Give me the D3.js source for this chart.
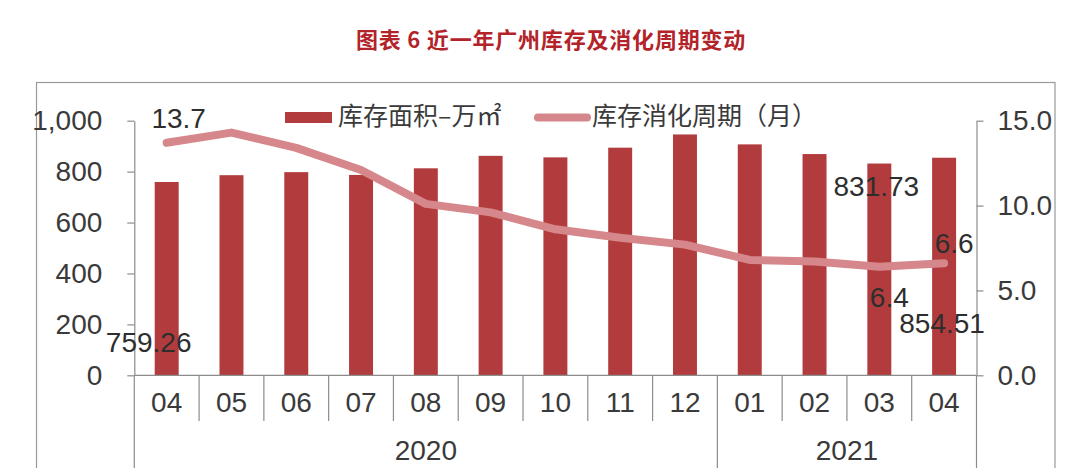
<!DOCTYPE html>
<html><head><meta charset="utf-8">
<script src="https://cdn.jsdelivr.net/npm/d3@7"></script>
<style>
html,body{margin:0;padding:0;background:#fff;}
svg{display:block;}
</style>
</head><body>
<svg id="c" width="1080" height="468"></svg>
<script>
// ---- data ----
const months = ["04","05","06","07","08","09","10","11","12","01","02","03","04"];
const years = ["2020","2020","2020","2020","2020","2020","2020","2020","2020","2021","2021","2021","2021"];
const yearGroups = ["2020","2021"];
const inventory = [759.26, 786, 798, 787, 813, 862, 856, 894, 946, 907, 869, 831.73, 854.51];
const cycle = [13.7, 14.3, 13.4, 12.1, 10.1, 9.6, 8.6, 8.1, 7.7, 6.8, 6.7, 6.4, 6.6];
const leftTicks = [0, 200, 400, 600, 800, 1000];
const rightTicks = [0, 5, 10, 15];
const titleText = "图表 6 近一年广州库存及消化周期变动";
const legendBar = "库存面积–万㎡";
const legendLine = "库存消化周期（月）";

// ---- setup ----
const svg = d3.select("#c");
const NUM = "'Liberation Sans', Arial, sans-serif";
const CJK = "'Noto Sans CJK SC', 'Noto Sans', sans-serif";
const TXT = "#3a3a3a";
const AX = "#8c8c8c";
const BAR = "#b23c3d";
const LINE = "#d6878b";

const keys = months.map((m, i) => years[i] + "-" + m);
const x = d3.scaleBand().domain(keys).range([134.3, 976.5]).padding(0);
const yL = d3.scaleLinear().domain([0, 1000]).range([375.3, 120.7]);
const yR = d3.scaleLinear().domain([0, 15]).range([375.3, 120.7]);
const bw = x.bandwidth() * 0.37;
const cx = i => x(keys[i]) + x.bandwidth() / 2;

// outer frame
svg.append("rect").attr("x", 36.5).attr("y", 82.5).attr("width", 1018.5).attr("height", 420)
  .attr("fill", "none").attr("stroke", "#9a9a9a").attr("stroke-width", 1.2);

// title
svg.append("text").attr("x", 551).attr("y", 48).attr("text-anchor", "middle")
  .attr("font-family", CJK).attr("font-weight", "bold").attr("font-size", 22)
  .attr("letter-spacing", 0.8)
  .attr("fill", "#b3232a").attr("xml:space", "preserve").text(titleText);

// bars
svg.append("g").selectAll("rect").data(inventory).join("rect")
  .attr("x", (d, i) => cx(i) - bw / 2)
  .attr("width", bw)
  .attr("y", d => yL(d))
  .attr("height", d => yL(0) - yL(d))
  .attr("fill", BAR);

// left axis
const gL = svg.append("g").attr("transform", "translate(134.3,0)")
  .call(d3.axisLeft(yL).tickValues(leftTicks).tickFormat(d3.format(",")).tickSize(7).tickSizeOuter(0).tickPadding(25));
gL.select(".domain").attr("stroke", AX).attr("stroke-width", 1.2);
gL.selectAll(".tick line").attr("stroke", AX).attr("stroke-width", 1.2);
gL.selectAll(".tick text").attr("font-family", NUM).attr("font-size", 28).attr("fill", TXT);

// right axis
const gR = svg.append("g").attr("transform", "translate(976.5,0)")
  .call(d3.axisRight(yR).tickValues(rightTicks).tickFormat(d3.format(".1f")).tickSize(7).tickSizeOuter(0).tickPadding(14));
gR.select(".domain").attr("stroke", AX).attr("stroke-width", 1.2);
gR.selectAll(".tick line").attr("stroke", AX).attr("stroke-width", 1.2);
gR.selectAll(".tick text").attr("font-family", NUM).attr("font-size", 28).attr("fill", TXT);

// category axis baseline
const base = yL(0);
svg.append("line").attr("x1", x.range()[0]).attr("x2", x.range()[1]).attr("y1", base).attr("y2", base)
  .attr("stroke", AX).attr("stroke-width", 1.2);

// separators
const bounds = d3.range(keys.length + 1);
svg.append("g").selectAll("line").data(bounds).join("line")
  .attr("x1", i => i < keys.length ? x(keys[i]) : x.range()[1])
  .attr("x2", i => i < keys.length ? x(keys[i]) : x.range()[1])
  .attr("y1", base)
  .attr("y2", i => (i === 0 || i === keys.length || years[i] !== years[i - 1]) ? 475 : 421)
  .attr("stroke", AX).attr("stroke-width", 1.2);

// month labels
svg.append("g").selectAll("text").data(months).join("text")
  .attr("x", (d, i) => cx(i)).attr("y", 412).attr("text-anchor", "middle")
  .attr("font-family", NUM).attr("font-size", 28).attr("fill", TXT).text(d => d);

// year labels
svg.append("g").selectAll("text").data(yearGroups).join("text")
  .attr("x", g => {
    const idx = years.map((y, i) => y === g ? i : -1).filter(i => i >= 0);
    return (x(keys[idx[0]]) + x(keys[idx[idx.length - 1]]) + x.bandwidth()) / 2;
  })
  .attr("y", 460).attr("text-anchor", "middle")
  .attr("font-family", NUM).attr("font-size", 28).attr("fill", TXT).text(d => d);

// line
const line = d3.line().x((d, i) => cx(i)).y(d => yR(d));
svg.append("path").datum(cycle).attr("d", line).attr("fill", "none")
  .attr("stroke", LINE).attr("stroke-width", 8).attr("stroke-linecap", "round").attr("stroke-linejoin", "round");

// data labels
const n = keys.length - 1;
const labels = [
  {t: d3.format(".1f")(cycle[0]), x: cx(0) + 12, y: yR(cycle[0]) - 15},
  {t: d3.format(".2f")(inventory[0]), x: cx(0) - 18, y: yL(0) - 23},
  {t: d3.format(".2f")(inventory[n - 1]), x: cx(n - 1) - 3, y: yL(inventory[n - 1]) + 32},
  {t: d3.format(".1f")(cycle[n - 1]), x: cx(n - 1) + 10, y: yR(cycle[n - 1]) + 40},
  {t: d3.format(".1f")(cycle[n]), x: cx(n) + 10, y: yR(cycle[n]) - 10},
  {t: d3.format(".2f")(inventory[n]), x: cx(n) - 2, y: yL(0) - 42}
];
svg.append("g").selectAll("text").data(labels).join("text")
  .attr("x", d => d.x).attr("y", d => d.y).attr("text-anchor", "middle")
  .attr("font-family", NUM).attr("font-size", 28).attr("fill", "#2e2e2e").text(d => d.t);

// legend
const lg = svg.append("g");
lg.append("rect").attr("x", 285).attr("y", 112).attr("width", 47).attr("height", 11).attr("fill", BAR);
lg.append("text").attr("x", 338).attr("y", 125).attr("font-family", CJK).attr("font-size", 25)
  .attr("fill", TXT).text(legendBar);
lg.append("line").attr("x1", 538).attr("x2", 587).attr("y1", 117.5).attr("y2", 117.5)
  .attr("stroke", LINE).attr("stroke-width", 8).attr("stroke-linecap", "round");
lg.append("text").attr("x", 592).attr("y", 125).attr("font-family", CJK).attr("font-size", 25)
  .attr("fill", TXT).text(legendLine);
</script>
</body></html>
